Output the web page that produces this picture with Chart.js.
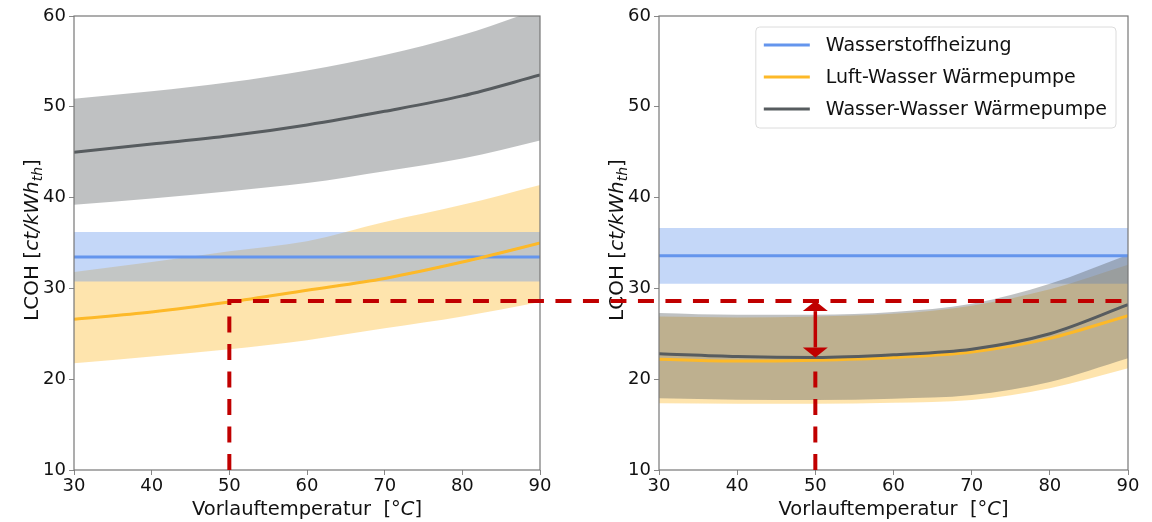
<!DOCTYPE html>
<html>
<head>
<meta charset="utf-8">
<title>LCOH Vorlauftemperatur</title>
<script src="https://cdn.jsdelivr.net/npm/chart.js@4.4.1/dist/chart.umd.min.js"></script>
<style>
    html, body { margin: 0; padding: 0; background: #fff; }
    #wrap { position: relative; width: 1152px; height: 522px; }
    #wrap canvas { position: absolute; top: 0; }
</style>
</head>
<body>
<div id="wrap">
    <canvas id="lcohLeft" width="580" height="522" style="left:0"></canvas>
    <canvas id="lcohRight" width="572" height="522" style="left:580px"></canvas>
    <canvas id="guides" width="1152" height="522" style="left:0;pointer-events:none"></canvas>
</div>
<script>
// Vorlauftemperatur in °C
const temps = [30, 40, 50, 60, 70, 80, 90];

const labelH2 = 'Wasserstoffheizung';
const labelLW = 'Luft-Wasser Wärmepumpe';
const labelWW = 'Wasser-Wasser Wärmepumpe';

// left panel, ct/kWh_th
const h2LeftMean = [33.45, 33.45, 33.45, 33.45, 33.45, 33.45, 33.45];
const h2LeftLow  = [30.75, 30.75, 30.75, 30.75, 30.75, 30.75, 30.75];
const h2LeftHigh = [36.2, 36.2, 36.2, 36.2, 36.2, 36.2, 36.2];

const lwLeftMean = [26.6, 27.4, 28.5, 29.8, 31.1, 32.9, 35.0];
const lwLeftLow  = [21.75, 22.5, 23.3, 24.3, 25.6, 26.9, 28.5];
const lwLeftHigh = [31.8, 32.9, 34.1, 35.2, 37.3, 39.2, 41.4];

const wwLeftMean = [45.0, 45.9, 46.8, 48.0, 49.5, 51.2, 53.5];
const wwLeftLow  = [39.2, 39.9, 40.7, 41.6, 42.9, 44.3, 46.3];
const wwLeftHigh = [50.9, 51.7, 52.7, 54.0, 55.7, 57.9, 60.8];

// right panel, ct/kWh_th
const h2RightMean = [33.6, 33.6, 33.6, 33.6, 33.6, 33.6, 33.6];
const h2RightLow  = [30.5, 30.5, 30.5, 30.5, 30.5, 30.5, 30.5];
const h2RightHigh = [36.65, 36.65, 36.65, 36.65, 36.65, 36.65, 36.65];

const lwRightMean = [22.2, 22.0, 22.1, 22.4, 23.0, 24.5, 27.0];
const lwRightLow  = [17.35, 17.3, 17.3, 17.4, 17.7, 19.0, 21.2];
const lwRightHigh = [26.9, 26.8, 26.9, 27.2, 28.1, 29.9, 32.6];

const wwRightMean = [22.8, 22.5, 22.4, 22.7, 23.3, 25.0, 28.2];
const wwRightLow  = [17.9, 17.75, 17.7, 17.85, 18.25, 19.7, 22.3];
const wwRightHigh = [27.3, 27.1, 27.1, 27.4, 28.3, 30.5, 33.7];

const xTicks = [30, 40, 50, 60, 70, 80, 90];
const yTicks = [10, 20, 30, 40, 50, 60];

// reference point: Luft-Wasser at 50 °C
const refTemp = 50;
const refCost = 28.6;

const colH2 = '#6495ed';
const colLW = '#fdb928';
const colWW = '#575c5f';
const bandAlpha = 0.38;

const FONT = '"DejaVu Sans", sans-serif';
Chart.defaults.font.family = FONT;
Chart.defaults.color = '#111';

function hexToRgba(hex, a) {
    const n = parseInt(hex.slice(1), 16);
    return 'rgba(' + (n >> 16) + ',' + ((n >> 8) & 255) + ',' + (n & 255) + ',' + a + ')';
}

function pts(values) {
    return temps.map((t, i) => ({x: t, y: values[i]}));
}

// low edge, high edge filled down to it, then the mean line on top
function series(label, color, mean, low, high, bandOrder, lineOrder) {
    const curve = {tension: 0.4, cubicInterpolationMode: 'monotone'};
    return [
        {label: label + ' min', data: pts(low), borderWidth: 0, borderColor: 'transparent',
            pointRadius: 0, fill: false, order: bandOrder, ...curve},
        {label: label + ' max', data: pts(high), borderWidth: 0, borderColor: 'transparent',
            pointRadius: 0, fill: '-1', backgroundColor: hexToRgba(color, bandAlpha), order: bandOrder, ...curve},
        {label: label, data: pts(mean), borderColor: color, borderWidth: 3, pointRadius: 0,
            fill: false, order: lineOrder, ...curve}
    ];
}

function scaleOpts(yWidth) {
    const grid = {drawOnChartArea: false, drawTicks: true, tickLength: 5, color: '#888'};
    return {
        x: {
            type: 'linear', min: xTicks[0], max: xTicks[xTicks.length - 1],
            afterBuildTicks: s => { s.ticks = xTicks.map(v => ({value: v})); },
            ticks: {font: {size: 18}, color: '#111', padding: 1, maxRotation: 0},
            grid: grid, border: {display: false},
            afterFit: s => { s.height = 52; }
        },
        y: {
            type: 'linear', min: yTicks[0], max: yTicks[yTicks.length - 1],
            afterBuildTicks: s => { s.ticks = yTicks.map(v => ({value: v})); },
            ticks: {font: {size: 18}, color: '#111', padding: 3},
            grid: grid, border: {display: false},
            afterFit: s => { s.width = yWidth; }
        }
    };
}

function drawSegments(ctx, segs, x, y) {
    let cx = x;
    segs.forEach(sg => {
        ctx.font = sg.font;
        ctx.fillText(sg.t, cx, y + (sg.dy || 0));
        cx += ctx.measureText(sg.t).width;
    });
}

function segWidth(ctx, segs) {
    return segs.reduce((w, sg) => {
        ctx.font = sg.font;
        return w + ctx.measureText(sg.t).width;
    }, 0);
}

// frame and axis titles with italic / subscript parts
const frameTitles = {
    id: 'frameTitles',
    afterDraw(chart, args, opts) {
        const {ctx, chartArea: a} = chart;
        ctx.save();
        ctx.strokeStyle = '#777';
        ctx.lineWidth = 1.2;
        ctx.strokeRect(a.left, a.top, a.right - a.left, a.bottom - a.top);

        ctx.fillStyle = '#111';
        ctx.textBaseline = 'alphabetic';
        const xSegs = [
            {t: 'Vorlauftemperatur  [°', font: '19.5px ' + FONT},
            {t: 'C', font: 'italic 19.5px ' + FONT},
            {t: ']', font: '19.5px ' + FONT}
        ];
        const xw = segWidth(ctx, xSegs);
        drawSegments(ctx, xSegs, (a.left + a.right) / 2 - xw / 2, 515);

        const ySegs = [
            {t: 'LCOH [', font: '20px ' + FONT},
            {t: 'ct/kWh', font: 'italic 20px ' + FONT},
            {t: 'th', font: 'italic 14px ' + FONT, dy: 4},
            {t: ']', font: '20px ' + FONT}
        ];
        const yw = segWidth(ctx, ySegs);
        ctx.translate(opts.titleX, (a.top + a.bottom) / 2 - 3);
        ctx.rotate(-Math.PI / 2);
        drawSegments(ctx, ySegs, -yw / 2, 7);
        ctx.restore();
    }
};

// boxed legend in the upper right of the chart area
const legendBox = {
    id: 'legendBox',
    afterDraw(chart, args, opts) {
        if (!opts.items) return;
        const {ctx, chartArea: a} = chart;
        ctx.save();
        ctx.font = '19px ' + FONT;
        const textW = Math.max(...opts.items.map(it => ctx.measureText(it.label).width));
        const w = 8 + 46 + 16 + textW + 9;
        const h = 101;
        const x = a.right - 12 - w;
        const y = a.top + 11;
        ctx.beginPath();
        ctx.roundRect(x, y, w, h, 4);
        ctx.fillStyle = 'rgba(255,255,255,0.85)';
        ctx.fill();
        ctx.strokeStyle = '#dcdcdc';
        ctx.lineWidth = 1;
        ctx.stroke();
        ctx.textBaseline = 'middle';
        opts.items.forEach((it, i) => {
            const cy = y + 18 + i * 32;
            ctx.strokeStyle = it.color;
            ctx.lineWidth = 3;
            ctx.beginPath();
            ctx.moveTo(x + 8, cy);
            ctx.lineTo(x + 54, cy);
            ctx.stroke();
            ctx.fillStyle = '#111';
            ctx.fillText(it.label, x + 70, cy + 1);
        });
        ctx.restore();
    }
};

function makeChart(id, sets, yWidth, padRight, titleX, legendItems) {
    return new Chart(document.getElementById(id), {
        type: 'line',
        data: {datasets: sets},
        options: {
            responsive: false,
            animation: false,
            events: [],
            layout: {padding: {top: 16, right: padRight, bottom: 0, left: 0}},
            scales: scaleOpts(yWidth),
            plugins: {
                legend: {display: false},
                tooltip: {enabled: false},
                frameTitles: {titleX: titleX},
                legendBox: {items: legendItems}
            }
        },
        plugins: [frameTitles, legendBox]
    });
}

const leftSets = [
    ...series(labelWW, colWW, wwLeftMean, wwLeftLow, wwLeftHigh, 4, 1),
    ...series(labelLW, colLW, lwLeftMean, lwLeftLow, lwLeftHigh, 6, 2),
    ...series(labelH2, colH2, h2LeftMean, h2LeftLow, h2LeftHigh, 5, 3)
];
const rightSets = [
    ...series(labelWW, colWW, wwRightMean, wwRightLow, wwRightHigh, 4, 1),
    ...series(labelLW, colLW, lwRightMean, lwRightLow, lwRightHigh, 6, 2),
    ...series(labelH2, colH2, h2RightMean, h2RightLow, h2RightHigh, 5, 3)
];

const leftChart = makeChart('lcohLeft', leftSets, 74, 40, 31, null);
const rightChart = makeChart('lcohRight', rightSets, 79, 24, 36, [
    {label: labelH2, color: colH2},
    {label: labelLW, color: colLW},
    {label: labelWW, color: colWW}
]);

// red dashed guide at the reference cost, spanning both panels, plus the gap arrow
function drawGuides() {
    const g = document.getElementById('guides').getContext('2d');
    const L = leftChart.scales, R = rightChart.scales;
    const offR = 580;
    const red = '#c00000';

    const xL = L.x.getPixelForValue(refTemp);
    const yRef = L.y.getPixelForValue(refCost);
    const xEnd = offR + R.x.getPixelForValue(R.x.max);

    g.save();
    g.strokeStyle = red;
    g.lineWidth = 4;
    g.lineCap = 'butt';
    g.setLineDash([16, 11.5]);
    g.beginPath();
    g.moveTo(xL, L.y.getPixelForValue(L.y.min));
    g.lineTo(xL, yRef);
    g.lineTo(xEnd, yRef);
    g.stroke();

    const idx = temps.indexOf(refTemp);
    const xR = offR + R.x.getPixelForValue(refTemp);
    const yTop = R.y.getPixelForValue(refCost);
    const yBot = R.y.getPixelForValue(wwRightMean[idx]);
    g.beginPath();
    g.moveTo(xR, R.y.getPixelForValue(R.y.min));
    g.lineTo(xR, yBot + 12);
    g.stroke();

    // double-headed arrow
    g.setLineDash([]);
    g.lineWidth = 3.5;
    const head = 10, half = 12.5;
    g.beginPath();
    g.moveTo(xR, yTop + head);
    g.lineTo(xR, yBot - head);
    g.stroke();
    g.fillStyle = red;
    g.beginPath();
    g.moveTo(xR, yTop);
    g.lineTo(xR - half, yTop + head);
    g.lineTo(xR + half, yTop + head);
    g.closePath();
    g.fill();
    g.beginPath();
    g.moveTo(xR, yBot);
    g.lineTo(xR - half, yBot - head);
    g.lineTo(xR + half, yBot - head);
    g.closePath();
    g.fill();
    g.restore();
}

drawGuides();
</script>
</body>
</html>
